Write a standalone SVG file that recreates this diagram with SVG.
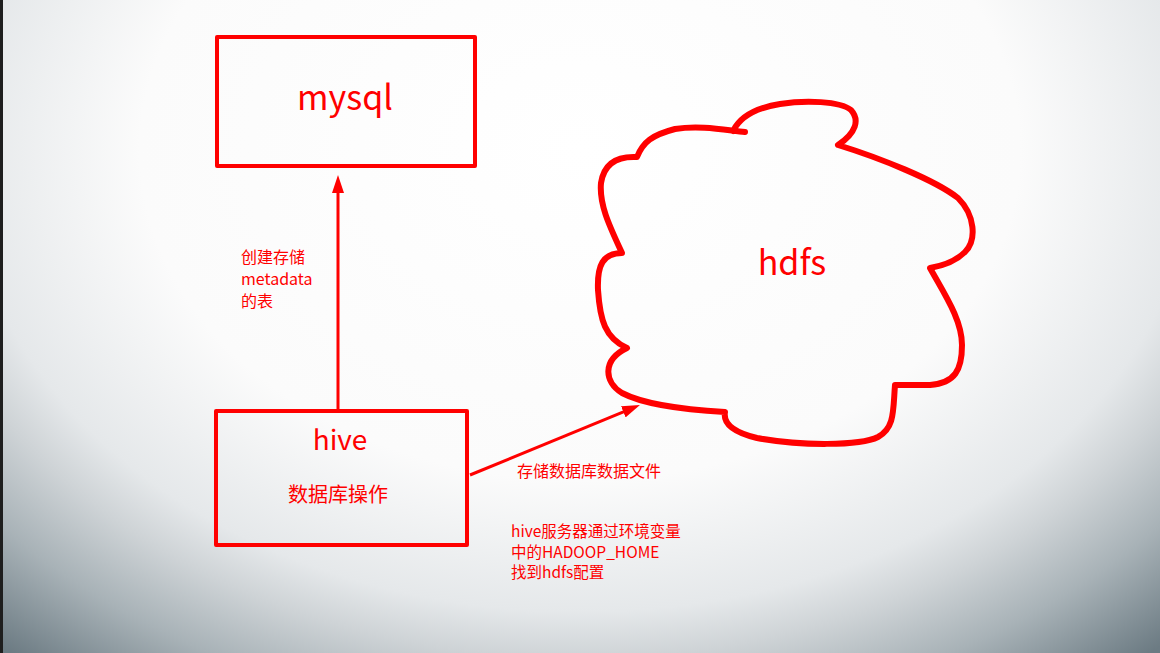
<svg xmlns="http://www.w3.org/2000/svg" width="1160" height="653" viewBox="0 0 1160 653">
<defs>
<radialGradient id="bg" gradientUnits="userSpaceOnUse" cx="0" cy="0" r="1" gradientTransform="translate(580,150) scale(880,660)">
<stop offset="0" stop-color="#ffffff"/>
<stop offset="0.5" stop-color="#fbfbfb"/>
<stop offset="0.7" stop-color="#e5e8ea"/>
<stop offset="0.77" stop-color="#ced3d6"/>
<stop offset="0.87" stop-color="#a8b2b7"/>
<stop offset="1" stop-color="#6c7b83"/>
</radialGradient>
<marker id="ah" markerUnits="userSpaceOnUse" markerWidth="18" markerHeight="12" refX="8" refY="6" orient="auto">
<path d="M0,0 L18,6 L0,12 Z" fill="#ff0000"/>
</marker>
<style>
.box{fill:none;stroke:#ff0000;stroke-width:4;stroke-linejoin:round}
.cloud{fill:none;stroke:#ff0000;stroke-width:6;stroke-linejoin:round;stroke-linecap:round}
.conn{fill:none;stroke:#ff0000;stroke-width:3}
text{fill:#ff0000;font-family:"Noto Sans CJK SC","Noto Sans",sans-serif}
.big{font-size:34px;text-anchor:middle}
.mid{font-size:28px;text-anchor:middle}
.sub{font-size:20px;text-anchor:middle}
.lbl{font-size:16px}
.note{font-size:15.5px}
</style>
</defs>
<rect x="0" y="0" width="1160" height="653" fill="url(#bg)"/>
<rect x="0" y="0" width="3" height="653" fill="#1e1e1e"/>
<g id="mysql">
<rect class="box" x="217" y="37" width="258" height="129"/>
<text class="big" x="345" y="110">mysql</text>
</g>
<g id="hive">
<rect class="box" x="216" y="411" width="251" height="134"/>
<text class="mid" x="340" y="450">hive</text>
<text class="sub" x="338" y="502">数据库操作</text>
</g>
<g id="hdfs">
<path class="cloud" d="M733,131 C740,117 755,108 780,104 C805,100 840,101 851,110 C860,120 856,133 838,145 C880,158 935,180 958,198 C975,215 977,240 965,252 C955,262 942,266 930,268 C945,295 962,320 962,345 C962,370 955,383 930,385 L895,385 C893,410 895,428 878,437 C860,446 800,446 757,438 C732,432 723,423 725,412 C690,410 645,405 622,393 C604,382 602,360 627,348 C605,338 600,320 598,290 C597,265 603,253 622,253 C610,227 599,205 601,183 C604,163 618,156 637,157 C643,142 652,135 675,129 C700,125 725,130 745,132"/>
<text class="big" x="792" y="275">hdfs</text>
</g>
<g id="connectors">
<line class="conn" x1="338" y1="409" x2="338" y2="185" marker-end="url(#ah)"/>
<line class="conn" x1="470" y1="475" x2="630.7" y2="408.8" marker-end="url(#ah)"/>
<text class="lbl" x="241" y="263">创建存储</text>
<text class="lbl" x="241" y="285">metadata</text>
<text class="lbl" x="241" y="307">的表</text>
<text class="lbl" x="517" y="477" font-size="17">存储数据库数据文件</text>
<text class="note" x="511" y="537">hive服务器通过环境变量</text>
<text class="note" x="511" y="558">中的HADOOP_HOME</text>
<text class="note" x="511" y="578">找到hdfs配置</text>
</g>
</svg>
